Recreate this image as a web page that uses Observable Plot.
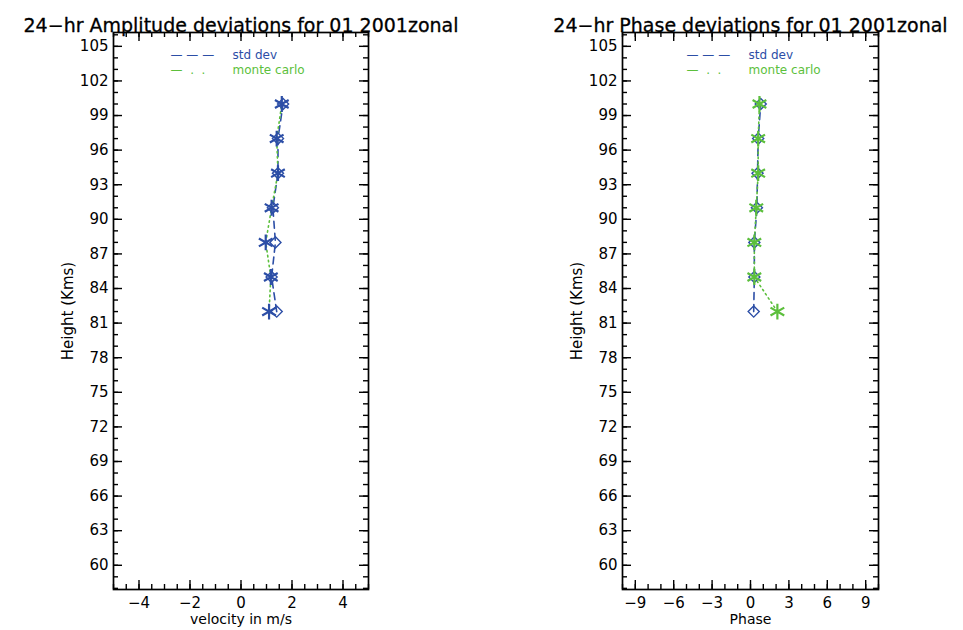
<!DOCTYPE html>
<html><head><meta charset="utf-8">
<script src="https://cdn.jsdelivr.net/npm/d3@7"></script>
<script src="https://cdn.jsdelivr.net/npm/@observablehq/plot@0.6"></script>
<style>
body{margin:0;background:#fff;}
#wrap{position:relative;width:963px;height:630px;overflow:hidden;}
#wrap svg{position:absolute;top:0;}
</style></head><body><div id="wrap"></div>
<script>
// ---- data ----
const heights = [82, 85, 88, 91, 94, 97, 100];
const ampStdDev = [1.4, 1.2, 1.35, 1.25, 1.45, 1.45, 1.65];
const ampMonteCarlo = [1.1, 1.17, 0.97, 1.2, 1.45, 1.4, 1.6];
const phaseStdDev = [0.25, 0.3, 0.3, 0.5, 0.55, 0.6, 0.8];
const phaseMonteCarlo = [2.1, 0.3, 0.3, 0.45, 0.6, 0.6, 0.7];
const heightTicks = [60, 63, 66, 69, 72, 75, 78, 81, 84, 87, 90, 93, 96, 99, 102, 105];
const ampTicks = [-4, -2, 0, 2, 4];
const phaseTicks = [-9, -6, -3, 0, 3, 6, 9];
const legendLabels = ["std dev", "monte carlo"];
const legendSamples = ["— — —", "—  .  ."];

const BLUE = "#2c4ea6";
const GREEN = "#5cbf3c";
const FONT = "DejaVu Sans";
const H = 630, MT = 32, MB = 41;
const heightMinor = d3.range(58, 107, 1);

function panel(o) {
  const W = o.width - o.marginLeft - o.marginRight;
  const IH = H - MT - MB;
  const std = heights.map((h, i) => ({h, v: o.std[i]}));
  const mc = heights.map((h, i) => ({h, v: o.mc[i]}));
  const legendColors = [BLUE, GREEN];
  const legendMarks = legendLabels.flatMap((label, i) => [
    Plot.text([legendSamples[i]], {text: d => d, frameAnchor: "top-left", dx: o.legendDx,
      dy: 18 + 15 * i, textAnchor: "start", fill: legendColors[i], fontSize: 12}),
    Plot.text([label], {text: d => d, frameAnchor: "top-left", dx: o.legendDx + 62,
      dy: 18 + 15 * i, textAnchor: "start", fill: legendColors[i], fontSize: 12})
  ]);
  const svg = Plot.plot({
    width: o.width, height: H,
    marginLeft: o.marginLeft, marginRight: o.marginRight, marginTop: MT, marginBottom: MB,
    style: {fontFamily: FONT, fontSize: "15px", background: "transparent", color: "black"},
    x: {domain: o.xDomain},
    y: {domain: [57.9, 106.2]},
    marks: [
      // ticks inside the frame
      Plot.tickX(o.xTicks, {x: d => d, insetTop: IH - 9, stroke: "black", strokeWidth: 1.4}),
      Plot.tickX(o.xMinor, {x: d => d, insetTop: IH - 5, stroke: "black", strokeWidth: 1.4}),
      Plot.tickX(o.xTicks, {x: d => d, insetBottom: IH - 9, stroke: "black", strokeWidth: 1.4}),
      Plot.tickX(o.xMinor, {x: d => d, insetBottom: IH - 5, stroke: "black", strokeWidth: 1.4}),
      Plot.tickY(heightTicks, {y: d => d, insetRight: W - 9, stroke: "black", strokeWidth: 1.4}),
      Plot.tickY(heightMinor, {y: d => d, insetRight: W - 5, stroke: "black", strokeWidth: 1.4}),
      Plot.tickY(heightTicks, {y: d => d, insetLeft: W - 9, stroke: "black", strokeWidth: 1.4}),
      Plot.tickY(heightMinor, {y: d => d, insetLeft: W - 5, stroke: "black", strokeWidth: 1.4}),
      Plot.frame({stroke: "black", strokeWidth: 1.7}),
      Plot.axisY({ticks: heightTicks, tickSize: 0, tickPadding: 5, fontSize: 15,
        label: "Height (Kms)", labelAnchor: "center", labelOffset: 51, labelArrow: false}),
      Plot.axisX({ticks: o.xTicks, tickSize: 0, tickPadding: 8, label: null, fontSize: 15}),
      // series
      Plot.line(std, {x: "v", y: "h", stroke: BLUE, strokeWidth: 1.6, strokeDasharray: "7,5"}),
      Plot.line(mc, {x: "v", y: "h", stroke: GREEN, strokeWidth: 1.6, strokeDasharray: "1.5,3.5"}),
      Plot.dot(std, {x: "v", y: "h", symbol: "diamond2", r: 5, stroke: BLUE, strokeWidth: 1.4}),
      Plot.dot(mc, {x: "v", y: "h", symbol: "asterisk", r: 7.5, stroke: o.starColor, strokeWidth: 2.2}),
      // legend
      ...legendMarks,
      // title and x label
      Plot.text([o.title], {text: d => d, frameAnchor: "top", dy: -14, fontSize: 19, fill: "black", stroke: "black", strokeWidth: 0.3}),
      Plot.text([o.xLabel], {text: d => d, frameAnchor: "bottom", dy: 34, fontSize: 14, fill: "black"})
    ]
  });
  svg.style.left = o.left + "px";
  return svg;
}

const wrap = document.getElementById("wrap");
wrap.appendChild(panel({
  left: 0, width: 480, marginLeft: 113, marginRight: 112,
  title: "24−hr Amplitude deviations for 01 2001zonal",
  xLabel: "velocity in m/s",
  xDomain: [-5, 5], xTicks: ampTicks, xMinor: d3.range(-5, 5.01, 0.5),
  std: ampStdDev, mc: ampMonteCarlo, starColor: BLUE, legendDx: 57
}));
wrap.appendChild(panel({
  left: 480, width: 483, marginLeft: 142, marginRight: 85,
  title: "24−hr Phase deviations for 01 2001zonal",
  xLabel: "Phase",
  xDomain: [-10, 10], xTicks: phaseTicks, xMinor: d3.range(-10, 10.01, 1),
  std: phaseStdDev, mc: phaseMonteCarlo, starColor: GREEN, legendDx: 64
}));
</script></body></html>
